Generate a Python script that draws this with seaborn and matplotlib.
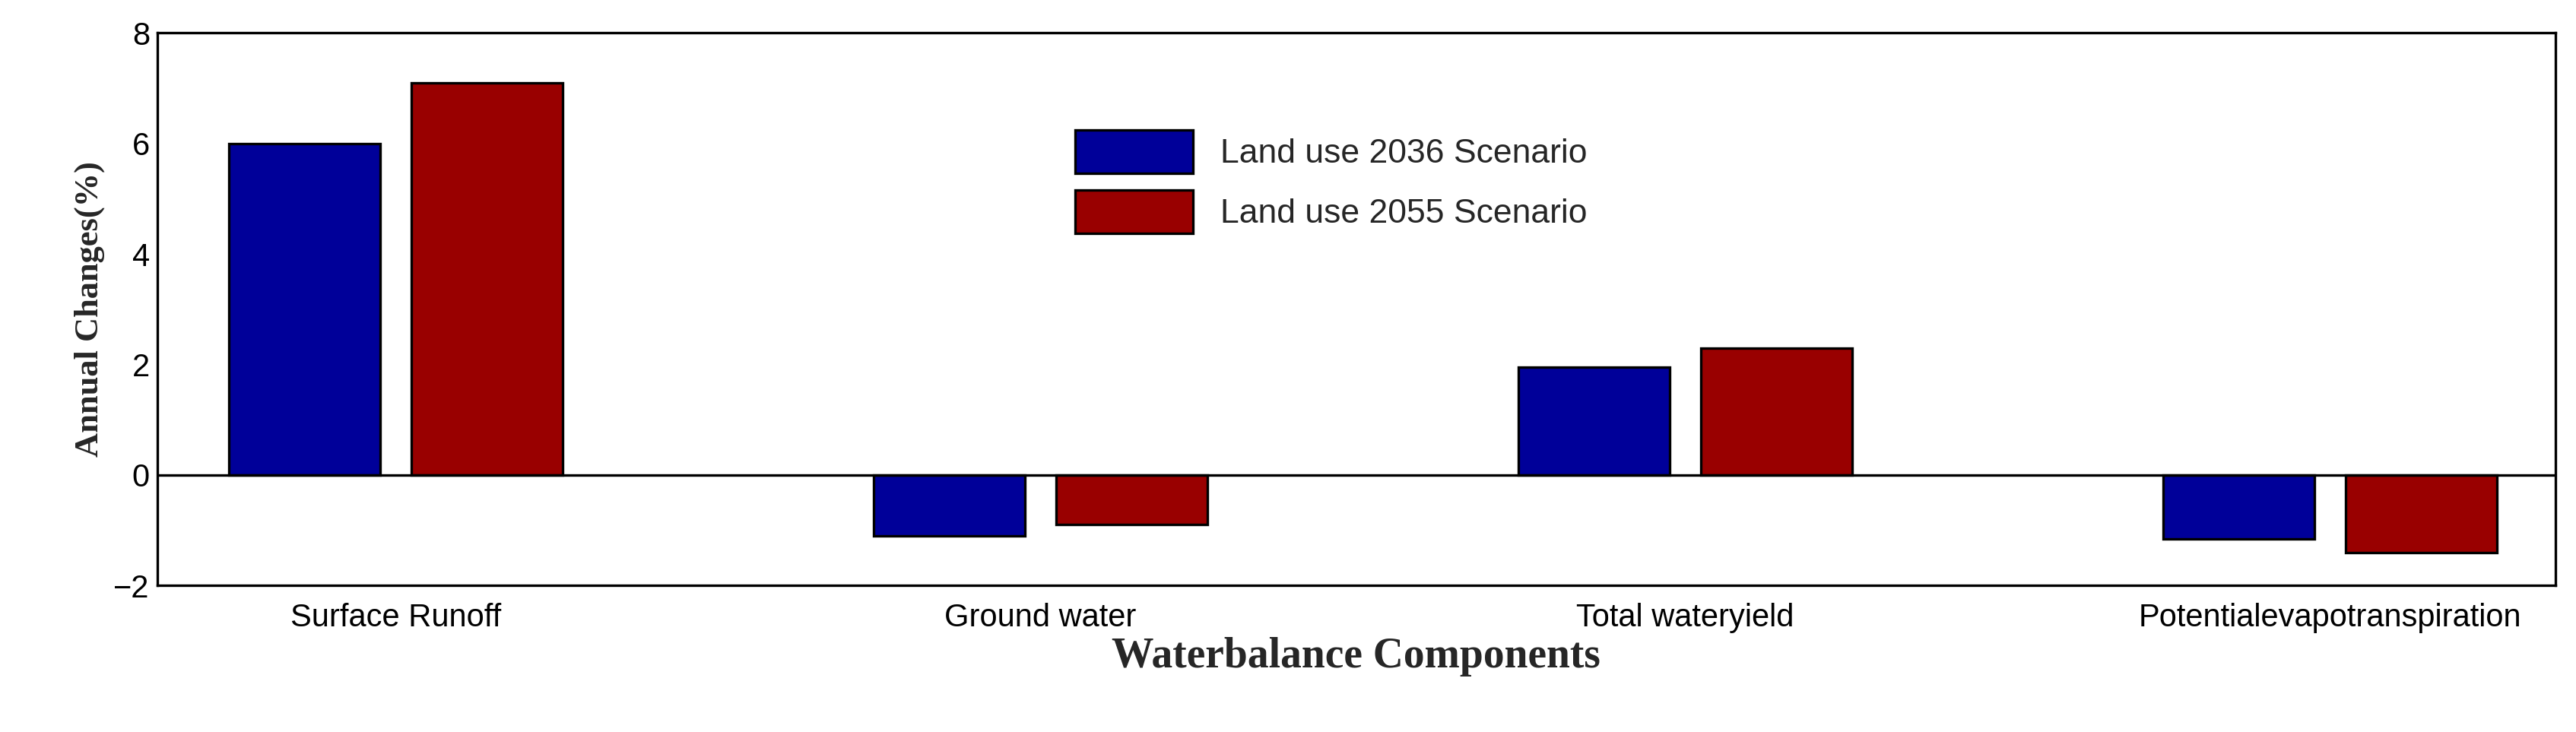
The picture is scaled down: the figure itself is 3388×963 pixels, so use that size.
import pandas as pd
import matplotlib
matplotlib.use("Agg")
import matplotlib.pyplot as plt
import seaborn as sns

components = ["Surface Runoff", "Ground water", "Total wateryield", "Potentialevapotranspiration"]
scenarios = ["Land use 2036 Scenario", "Land use 2055 Scenario"]
changes_2036 = [6.0, -1.1, 1.95, -1.15]
changes_2055 = [7.1, -0.9, 2.3, -1.4]

df = pd.DataFrame({
    "component": components * 2,
    "scenario": [scenarios[0]] * 4 + [scenarios[1]] * 4,
    "change": changes_2036 + changes_2055,
})

sns.set_theme(style="white")
plt.rcParams['font.family'] = ['Liberation Sans', 'DejaVu Sans']

fig = plt.figure(figsize=(16.94, 4.815), dpi=200)
ax = fig.add_axes([0.061, 0.2, 0.931, 0.755])

sns.barplot(data=df, x="component", y="change", hue="scenario",
            palette=["#000099", "#990000"], width=0.566, gap=0.17,
            edgecolor="black", linewidth=1.2, saturation=1, ax=ax)

ax.axhline(0, color="black", linewidth=1.2)
ax.set_xlim(-0.37, 3.35)
ax.set_ylim(-2, 8)
ax.set_yticks([-2, 0, 2, 4, 6, 8])
ax.tick_params(axis="both", labelsize=15, direction="in", length=6, colors="black")
ax.tick_params(axis="x", length=0, pad=8)
for s in ax.spines.values():
    s.set_color("black")
    s.set_linewidth(1.2)

ax.set_ylabel("Annual Changes(%)", fontsize=16, fontweight="bold",
              family=["Liberation Serif", "DejaVu Serif"])
ax.set_xlabel("Waterbalance Components", fontsize=20, fontweight="bold",
              family=["Liberation Serif", "DejaVu Serif"], labelpad=2)

leg = ax.legend(loc="upper left", bbox_to_anchor=(0.37, 0.88), fontsize=16,
                frameon=False, handlelength=3.5, handleheight=1.6, labelspacing=0.5)

plt.savefig("out.png")
